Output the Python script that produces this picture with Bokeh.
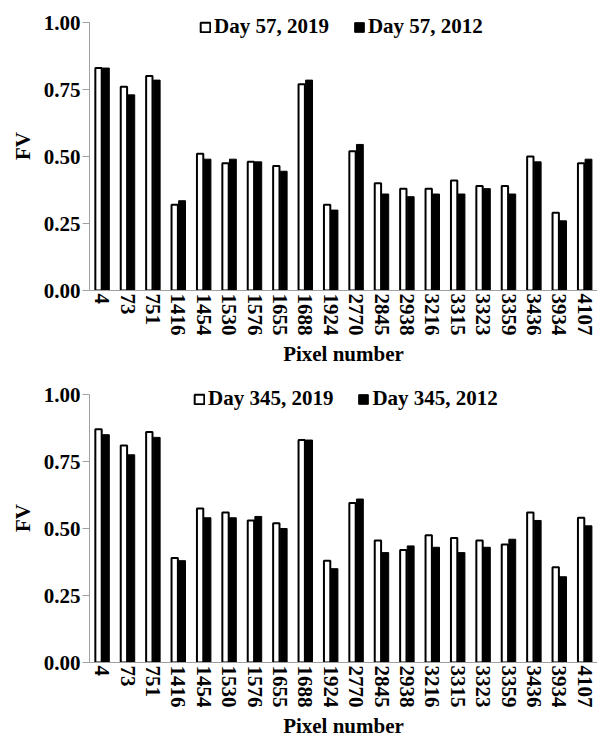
from bokeh.plotting import figure
from bokeh.layouts import column
from bokeh.models import ColumnDataSource, FactorRange, Legend, LegendItem, NumeralTickFormatter, FixedTicker, Range1d
from bokeh.transform import dodge
from bokeh.embed import file_html
from bokeh.resources import INLINE

pixels = ["4", "73", "751", "1416", "1454", "1530", "1576", "1655", "1688", "1924",
          "2770", "2845", "2938", "3216", "3315", "3323", "3359", "3436", "3934", "4107"]

day57_2019 = [0.83, 0.76, 0.80, 0.32, 0.51, 0.475, 0.48, 0.465, 0.77, 0.32,
              0.52, 0.40, 0.38, 0.38, 0.41, 0.39, 0.39, 0.50, 0.29, 0.475]
day57_2012 = [0.83, 0.73, 0.785, 0.335, 0.49, 0.49, 0.48, 0.445, 0.785, 0.30,
              0.545, 0.36, 0.35, 0.36, 0.36, 0.38, 0.36, 0.48, 0.26, 0.49]

day345_2019 = [0.87, 0.81, 0.86, 0.39, 0.575, 0.56, 0.53, 0.52, 0.83, 0.38,
               0.595, 0.455, 0.42, 0.475, 0.465, 0.455, 0.44, 0.56, 0.355, 0.54]
day345_2012 = [0.85, 0.775, 0.84, 0.38, 0.54, 0.54, 0.545, 0.50, 0.83, 0.35,
               0.61, 0.41, 0.435, 0.43, 0.41, 0.43, 0.46, 0.53, 0.32, 0.51]

y_ticks = [0.0, 0.25, 0.5, 0.75, 1.0]

FONT = "Liberation Serif"
AXIS_GRAY = "#a0a0a0"
FRAME_H = 289
Y_END = FRAME_H / 268.0


def make_fig(v_new, v_old, lab_new, lab_old, legend_x, top_border):
    src = ColumnDataSource(dict(px=pixels, new=v_new, old=v_old))
    p = figure(x_range=FactorRange(*pixels, range_padding=0), y_range=Range1d(0, Y_END),
               frame_width=508, frame_height=FRAME_H,
               min_border_left=89, min_border_right=0, min_border_top=top_border,
               min_border_bottom=76,
               output_backend="svg", toolbar_location=None, tools="")
    r1 = p.vbar(x=dodge("px", -0.145, range=p.x_range), top="new", width=0.25, source=src,
                fill_color="white", line_color="black", line_width=2)
    r2 = p.vbar(x=dodge("px", 0.145, range=p.x_range), top="old", width=0.27, source=src,
                fill_color="black", line_color="black", line_width=1)
    p.outline_line_color = None
    p.xgrid.grid_line_color = None
    p.ygrid.grid_line_color = None

    p.yaxis.ticker = FixedTicker(ticks=y_ticks)
    p.yaxis.formatter = NumeralTickFormatter(format="0.00")
    p.yaxis.bounds = (0, 1)
    p.yaxis.axis_label = "FV"
    p.xaxis.axis_label = "Pixel number"
    for ax in (p.xaxis, p.yaxis):
        ax.axis_line_color = AXIS_GRAY
        ax.major_tick_line_color = AXIS_GRAY
        ax.minor_tick_line_color = None
        ax.major_label_text_font = FONT
        ax.major_label_text_font_style = "bold"
        ax.major_label_text_font_size = "21px"
        ax.major_label_text_color = "black"
        ax.axis_label_text_font = FONT
        ax.axis_label_text_font_style = "bold"
        ax.axis_label_text_font_size = "21px"
        ax.axis_label_text_color = "black"
    p.yaxis.major_tick_out = 7
    p.yaxis.major_tick_in = 0
    p.yaxis.major_label_standoff = 2
    p.yaxis.axis_label_standoff = 6
    p.xaxis.major_tick_out = 0
    p.xaxis.major_tick_in = 0
    p.xaxis.major_label_orientation = "vertical"
    p.xaxis.major_label_standoff = 3
    p.xaxis.axis_label_standoff = 3

    legend = Legend(items=[LegendItem(label=lab_new, renderers=[r1]),
                           LegendItem(label=lab_old, renderers=[r2])],
                    orientation="horizontal", location=(legend_x, 251),
                    glyph_width=12, glyph_height=12, label_standoff=3, spacing=24,
                    padding=0, margin=0,
                    label_text_font=FONT, label_text_font_style="bold",
                    label_text_font_size="21px", label_text_color="black",
                    background_fill_alpha=0, border_line_alpha=0)
    p.add_layout(legend)
    return p


p1 = make_fig(day57_2019, day57_2012, "Day 57, 2019", "Day 57, 2012", 110, 1)
p2 = make_fig(day345_2019, day345_2012, "Day 345, 2019", "Day 345, 2012", 104, 5)

layout = column(p1, p2, spacing=0)
open("out.html", "w").write(file_html(layout, INLINE))
